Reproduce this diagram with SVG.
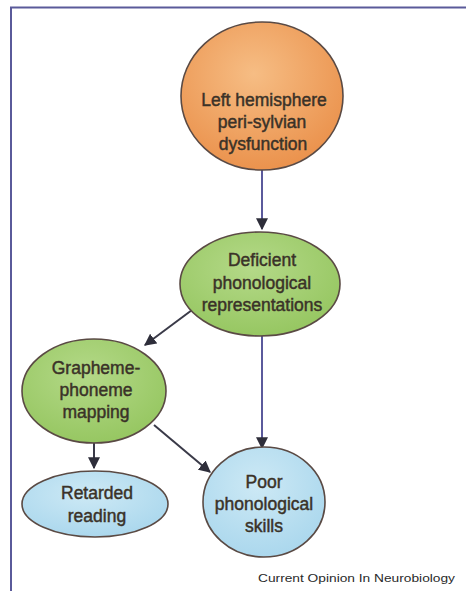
<svg xmlns="http://www.w3.org/2000/svg" width="466" height="591" viewBox="0 0 466 591">
<defs>
<radialGradient id="gOr" cx="45%" cy="35%" r="75%"><stop offset="0" stop-color="#f6bd84"/><stop offset="1" stop-color="#e98c45"/></radialGradient>
<radialGradient id="gGr" cx="45%" cy="35%" r="75%"><stop offset="0" stop-color="#b4d988"/><stop offset="1" stop-color="#92c45c"/></radialGradient>
<radialGradient id="gBl" cx="45%" cy="35%" r="75%"><stop offset="0" stop-color="#cde9f5"/><stop offset="1" stop-color="#a6d5ec"/></radialGradient>
<marker id="ah" viewBox="0 0 10 10" refX="9" refY="5" markerWidth="6" markerHeight="6" orient="auto" markerUnits="strokeWidth"><path d="M0,0 L10,5 L0,10 z" fill="#2e2e3a"/></marker>
<style>
.n{stroke:#5a4a44;stroke-width:1.6}
.t{font-family:"Liberation Sans",Arial,sans-serif;font-size:17.5px;fill:#3a3228;stroke:#3a3228;stroke-width:0.45;text-anchor:middle}
.c{stroke:#3a3a48;stroke-width:2;fill:none;marker-end:url(#ah)}
.v{stroke:#5b5a9c}
</style>
</defs>
<rect x="0" y="0" width="466" height="591" fill="#ffffff"/>
<path d="M11,600 L11,7.5 L470,7.5" fill="none" stroke="#5a5a9a" stroke-width="2"/>
<g id="connectors">
<line class="c v" x1="262" y1="170" x2="262" y2="229"/>
<line class="c" x1="192" y1="310" x2="145" y2="345"/>
<line class="c v" x1="262" y1="336" x2="262" y2="448"/>
<line class="c" x1="94" y1="442" x2="94" y2="468"/>
<line class="c" x1="154" y1="425" x2="210" y2="472"/>
</g>
<g id="n1"><ellipse class="n" cx="262" cy="96" rx="81" ry="74" fill="url(#gOr)"/>
<text class="t" x="264" y="106">Left hemisphere</text><text class="t" x="262" y="128">peri-sylvian</text><text class="t" x="263" y="150">dysfunction</text></g>
<g id="n2"><ellipse class="n" cx="260" cy="284" rx="80" ry="52" fill="url(#gGr)"/>
<text class="t" x="262" y="266">Deficient</text><text class="t" x="262" y="289">phonological</text><text class="t" x="262" y="311">representations</text></g>
<g id="n3"><ellipse class="n" cx="94" cy="391" rx="72" ry="52" fill="url(#gGr)"/>
<text class="t" x="96" y="374">Grapheme-</text><text class="t" x="96" y="396">phoneme</text><text class="t" x="96" y="418">mapping</text></g>
<g id="n4"><ellipse class="n" cx="95" cy="504" rx="73" ry="33" fill="url(#gBl)"/>
<text class="t" x="97" y="499">Retarded</text><text class="t" x="97" y="522">reading</text></g>
<g id="n5"><ellipse class="n" cx="264" cy="502" rx="61" ry="55" fill="url(#gBl)"/>
<text class="t" x="264" y="488">Poor</text><text class="t" x="264" y="510">phonological</text><text class="t" x="264" y="532">skills</text></g>
<text x="455" y="582" font-family="'Liberation Sans',Arial,sans-serif" font-size="11" fill="#2a2a2a" text-anchor="end" textLength="197" lengthAdjust="spacingAndGlyphs">Current Opinion In Neurobiology</text>
</svg>
